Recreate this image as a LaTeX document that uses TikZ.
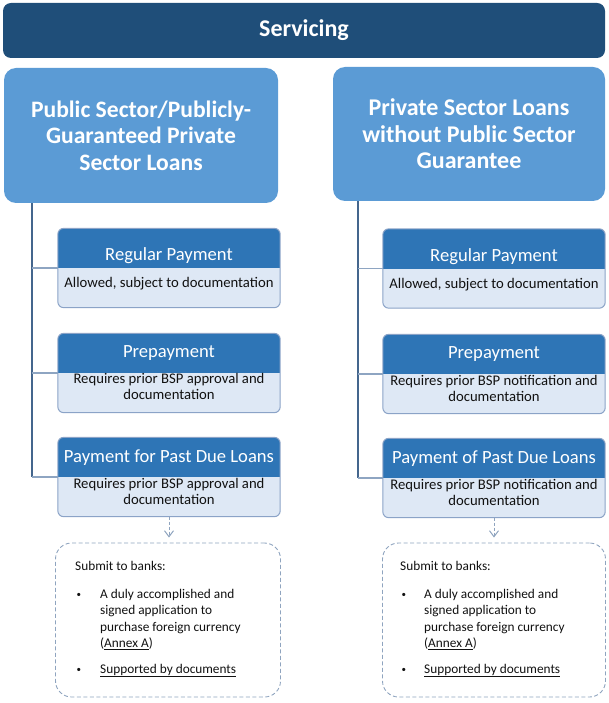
\documentclass[tikz,border=0pt]{standalone}
\usepackage{fontspec}
\setmainfont{Carlito}
\usetikzlibrary{arrows.meta}
\definecolor{navy}{HTML}{1F4E79}
\definecolor{hdrblue}{HTML}{5B9BD5}
\definecolor{subhead}{HTML}{2E75B6}
\definecolor{subbody}{HTML}{DEE8F5}
\definecolor{subline}{HTML}{8BA3C7}
\definecolor{spinec}{HTML}{44668D}
\definecolor{branchc}{HTML}{8EA5C2}
\definecolor{dashc}{HTML}{8FA4BF}
\definecolor{bodytext}{HTML}{111111}
\tikzset{
  topbar/.style={fill=navy, rounded corners=8pt, minimum width=602pt, minimum height=55pt, text=white, font=\fontsize{24}{26}\selectfont\bfseries},
  hdrbox/.style={fill=hdrblue, rounded corners=12pt, text=white, align=center, font=\fontsize{24}{26.5}\selectfont\bfseries},
  sbox/.style={minimum width=222pt, minimum height=79pt, inner sep=0pt},
  stitle/.style={text=white, font=\fontsize{18.6}{20}\selectfont, inner sep=0pt},
  sbody/.style={text=bodytext, align=center, font=\fontsize{14.7}{16}\selectfont, inner sep=0pt},
  spine/.style={draw=spinec, line width=1.2pt},
  branch/.style={draw=branchc, line width=1.2pt},
  darr/.style={draw=dashc, line width=1pt, dash pattern=on 3pt off 2pt, -{Straight Barb[length=6pt,width=9pt]}},
  dbox/.style={draw=dashc, line width=0.9pt, dash pattern=on 4pt off 2.5pt, rounded corners=16pt, inner sep=0pt},
  dtext/.style={text=bodytext, font=\fontsize{13.3}{16}\selectfont, inner sep=0pt, align=left},
  dbul/.style={text=bodytext, font=\fontsize{9}{10}\selectfont, inner sep=0pt},
}
\newcommand{\drawsub}[1]{%
  \fill[subbody, rounded corners=6pt] (#1.south west) rectangle (#1.north east);
  \begin{scope}
    \clip[rounded corners=6pt] (#1.south west) rectangle (#1.north east);
    \fill[subhead] (#1.west) rectangle (#1.north east);
  \end{scope}
  \draw[subline, line width=1pt, rounded corners=6pt] (#1.south west) rectangle (#1.north east);
}
\begin{document}
\begin{tikzpicture}[x=1pt,y=-1pt]
\useasboundingbox (0,0) rectangle (608,703);

% top bar
\node[topbar] (serv) at (304,30.5) {Servicing};

% header boxes
\node[hdrbox, minimum width=274pt, minimum height=135pt, font=\fontsize{23.6}{26.5}\selectfont\bfseries] (lh) at (141,135.5)
  {Public Sector/Publicly-\\Guaranteed Private\\Sector Loans};
\node[hdrbox, minimum width=272pt, minimum height=134pt] (rh) at (469,134)
  {Private Sector Loans\\without Public Sector\\Guarantee};

% left sub boxes
\node[sbox] (l1) at (169,268) {};
\node[sbox] (l2) at (169,373) {};
\node[sbox] (l3) at (169,477) {};
\drawsub{l1}\drawsub{l2}\drawsub{l3}
\node[stitle] (l1t) at (169,256) {Regular Payment};
\node[sbody] (l1b) at (169,284) {Allowed, subject to documentation};
\node[stitle] (l2t) at (169,353.5) {Prepayment};
\node[sbody] (l2b) at (169,386.5) {Requires prior BSP approval and\\documentation};
\node[stitle] (l3t) at (169,457.5) {Payment for Past Due Loans};
\node[sbody] (l3b) at (169,491) {Requires prior BSP approval and\\documentation};

% right sub boxes
\node[sbox] (r1) at (494,268.5) {};
\node[sbox] (r2) at (494,374) {};
\node[sbox] (r3) at (494,478) {};
\drawsub{r1}\drawsub{r2}\drawsub{r3}
\node[stitle] (r1t) at (494,256.5) {Regular Payment};
\node[sbody] (r1b) at (494,284.5) {Allowed, subject to documentation};
\node[stitle] (r2t) at (494,354.5) {Prepayment};
\node[sbody] (r2b) at (494,388.5) {Requires prior BSP notification and\\documentation};
\node[stitle] (r3t) at (494,458.5) {Payment of Past Due Loans};
\node[sbody] (r3b) at (494,492) {Requires prior BSP notification and\\documentation};

% connectors left
\coordinate (lsp) at (32,0);
\draw[spine] (lh.south -| lsp) -- (l3.west -| lsp);
\draw[branch] (l1.west -| lsp) -- (l1.west);
\draw[branch] (l2.west -| lsp) -- (l2.west);
\draw[branch] (l3.west -| lsp) -- (l3.west);
% connectors right
\coordinate (rsp) at (358,0);
\draw[spine] (rh.south -| rsp) -- (r3.west -| rsp);
\draw[branch] (r1.west -| rsp) -- (r1.west);
\draw[branch] (r2.west -| rsp) -- (r2.west);
\draw[branch] (r3.west -| rsp) -- (r3.west);

% dashed boxes
\node[dbox, minimum width=225pt, minimum height=154pt] (ld) at (168,620) {};
\node[dbox, minimum width=223pt, minimum height=154pt] (rd) at (494,620) {};

\draw[darr, shorten >=5pt] (l3.south) -- (l3.south |- ld.north);
\draw[darr, shorten >=5pt] (r3.south) -- (r3.south |- rd.north);

% dashed box text left
\node[dtext, anchor=base west] (lsub) at (75,570) {Submit to banks:};
\node[dbul, anchor=base west] (lb1) at (76.5,597) {\textbullet};
\node[dbul, anchor=base west] (lb2) at (76.5,672) {\textbullet};
\node[dtext, anchor=base west] (li1a) at (100,598) {A duly accomplished and};
\node[dtext, anchor=base west] (li1b) at (100,614.5) {signed application to};
\node[dtext, anchor=base west] (li1c) at (100,631) {purchase foreign currency};
\node[dtext, anchor=base west] (li1d) at (100,647.5) {(\underline{Annex A})};
\node[dtext, anchor=base west] (li2) at (100,673) {\underline{Supported by documents}};

% dashed box text right
\node[dtext, anchor=base west] (rsub) at (400,570) {Submit to banks:};
\node[dbul, anchor=base west] (rb1) at (401.5,597) {\textbullet};
\node[dbul, anchor=base west] (rb2) at (401.5,672) {\textbullet};
\node[dtext, anchor=base west] (ri1a) at (424,598) {A duly accomplished and};
\node[dtext, anchor=base west] (ri1b) at (424,614.5) {signed application to};
\node[dtext, anchor=base west] (ri1c) at (424,631) {purchase foreign currency};
\node[dtext, anchor=base west] (ri1d) at (424,647.5) {(\underline{Annex A})};
\node[dtext, anchor=base west] (ri2) at (424,673) {\underline{Supported by documents}};
\end{tikzpicture}
\end{document}
